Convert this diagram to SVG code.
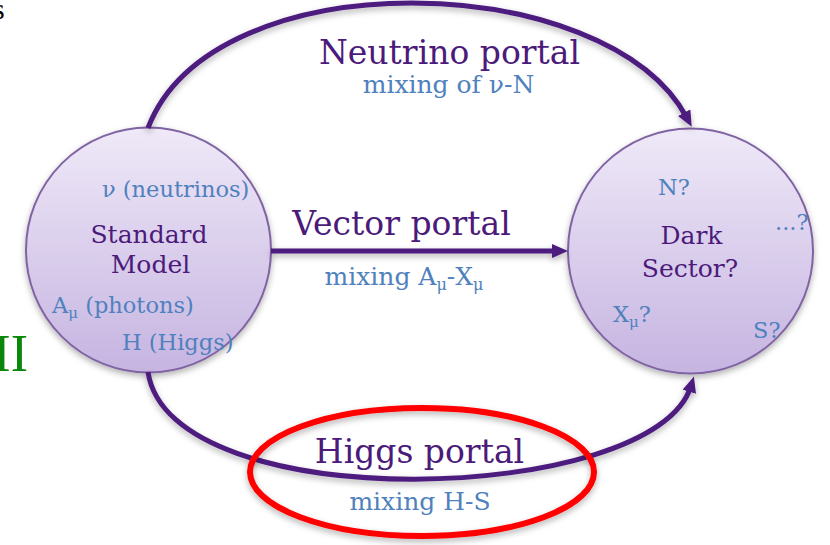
<svg xmlns="http://www.w3.org/2000/svg" width="830" height="545" viewBox="0 0 830 545">
  <defs>
    <linearGradient id="nodeFill" x1="0" y1="0" x2="0" y2="1">
      <stop offset="0" stop-color="#efe9f8"/>
      <stop offset="1" stop-color="#c6b4e1"/>
    </linearGradient>
    <filter id="shadow" x="-20%" y="-20%" width="140%" height="140%">
      <feDropShadow dx="0" dy="3" stdDeviation="3" flood-color="#000" flood-opacity="0.3"/>
    </filter>
    <marker id="arrow" viewBox="0 0 16 14" markerWidth="16" markerHeight="14" markerUnits="userSpaceOnUse" refX="6" refY="7" orient="auto">
      <path d="M0,0 L16,7 L0,14 z" fill="#4d1a7f"/>
    </marker>
  </defs>
  <style>
    .node { fill: url(#nodeFill); stroke: #8064a2; stroke-width: 2; }
    .conn { fill: none; stroke: #4d1a7f; stroke-width: 5; }
    .title { font-family: "DejaVu Serif", "Liberation Serif", serif; fill: #4b1a7a; font-size: 25px; text-anchor: middle; }
    .portal { font-family: "DejaVu Serif", "Liberation Serif", serif; fill: #4b1a7a; font-size: 33px; text-anchor: middle; }
    .sub { font-family: "DejaVu Serif", "Liberation Serif", serif; fill: #4f81bd; font-size: 25px; text-anchor: middle; }
    .item { font-family: "DejaVu Serif", "Liberation Serif", serif; fill: #4f81bd; font-size: 22.5px; }
  </style>

  <rect width="830" height="545" fill="#ffffff"/>

  <text x="-7" y="19" font-family="Liberation Serif, serif" font-size="30" fill="#000">s</text>
  <text x="28" y="371" font-family="Liberation Serif, serif" font-size="52" fill="#0a870a" text-anchor="end">II</text>

  <g id="standard-model">
    <circle class="node" cx="148.5" cy="250" r="122.5" filter="url(#shadow)"/>
    <text class="item" x="102" y="197">ν (neutrinos)</text>
    <text class="title" x="149" y="243">Standard</text>
    <text class="title" x="150.5" y="273">Model</text>
    <text class="item" x="52" y="313">A<tspan font-size="15" dy="5">μ</tspan><tspan dy="-5"> (photons)</tspan></text>
    <text class="item" x="122" y="350">H (Higgs)</text>
  </g>

  <g id="dark-sector">
    <circle class="node" cx="690.5" cy="251" r="122.5" filter="url(#shadow)"/>
    <text class="item" x="658" y="195">N?</text>
    <text class="item" x="775" y="230">...?</text>
    <text class="title" x="691.5" y="244">Dark</text>
    <text class="title" x="690" y="277">Sector?</text>
    <text class="item" x="613" y="322">X<tspan font-size="15" dy="5">μ</tspan><tspan dy="-5">?</tspan></text>
    <text class="item" x="753" y="338">S?</text>
  </g>

  <g id="connectors" filter="url(#shadow)">
    <path id="neutrino-portal" class="conn" d="M148,128 C213,-42 607,-32 687,118" marker-end="url(#arrow)"/>
    <path id="vector-portal" class="conn" d="M271,251 L558,251" marker-end="url(#arrow)"/>
    <path id="higgs-portal" class="conn" d="M148,372 C170,520 655,505 691,386" marker-end="url(#arrow)"/>
  </g>

  <g id="labels">
    <text class="portal" x="449.5" y="64">Neutrino portal</text>
    <text class="sub" x="448.5" y="93">mixing of ν-N</text>
    <text class="portal" x="401.5" y="235">Vector portal</text>
    <text class="sub" x="404" y="285">mixing A<tspan font-size="16" dy="5">μ</tspan><tspan dy="-5">-X</tspan><tspan font-size="16" dy="5">μ</tspan></text>
    <text class="portal" x="419.5" y="463">Higgs portal</text>
    <text class="sub" x="420" y="510">mixing H-S</text>
  </g>

  <g id="highlight">
    <ellipse cx="422" cy="472" rx="172" ry="64" fill="none" stroke="#ff0000" stroke-width="6" filter="url(#shadow)"/>
  </g>
</svg>
